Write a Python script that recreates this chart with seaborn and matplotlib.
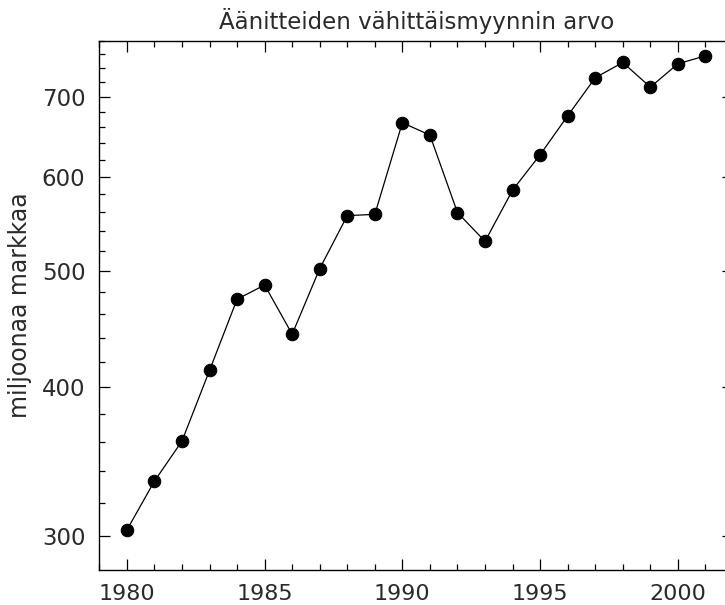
import matplotlib
matplotlib.use("Agg")
import matplotlib.pyplot as plt
import matplotlib.ticker as mticker
import seaborn as sns
import pandas as pd

years = list(range(1980, 2002))
values = [303.5, 333.5, 360.3, 412.9, 473.7, 486.9, 442.8, 502.5, 556.6, 558.0,
          665.9, 650.1, 559.9, 529.7, 584.7, 626.0, 674.8, 726.2, 747.9, 713.2,
          746.0, 757.6]
title = "Äänitteiden vähittäismyynnin arvo"
ylabel = "miljoonaa markkaa"
yticks = [300, 400, 500, 600, 700]
xticks = [1980, 1985, 1990, 1995, 2000]

df = pd.DataFrame({"year": years, "value": values})

sns.set_style("ticks")
plt.rcParams["font.family"] = ["DejaVu Sans"]
txt = "#2a2a2a"

fig = plt.figure(figsize=(7.25, 6.05), dpi=100)
ax = fig.add_axes([99.3 / 725, 1 - 570 / 605, (733 - 99.3) / 725, (570 - 40.7) / 605])

sns.lineplot(data=df, x="year", y="value", ax=ax, color="black", linewidth=0.9,
             marker="o", markersize=9, markeredgecolor="black", markerfacecolor="black")

ax.set_yscale("log")
ax.set_xlim(1979, 2002)
ax.set_ylim(281, 780)

ax.yaxis.set_major_locator(mticker.FixedLocator(yticks))
ax.yaxis.set_major_formatter(mticker.FixedFormatter([str(t) for t in yticks]))
ax.yaxis.set_minor_locator(mticker.FixedLocator([v for v in range(280, 781, 20) if v not in yticks]))
ax.yaxis.set_minor_formatter(mticker.NullFormatter())
ax.xaxis.set_major_locator(mticker.FixedLocator(xticks))
ax.xaxis.set_minor_locator(mticker.MultipleLocator(1))

for s in ax.spines.values():
    s.set_linewidth(1.0)
    s.set_color("black")
    s.set_visible(True)

ax.tick_params(which="both", direction="in", top=True, right=True, color="black", width=0.9)
ax.tick_params(which="major", length=8.2)
ax.tick_params(which="minor", length=4.3)
ax.tick_params(axis="x", which="major", pad=10, labelsize=16, labelcolor=txt)
ax.tick_params(axis="y", which="major", pad=10, labelsize=16.5, labelcolor=txt)

ax.set_xlabel("")
ax.set_ylabel(ylabel, fontsize=17, labelpad=7, color=txt)
ax.set_title(title, fontsize=16.5, pad=8.6, color=txt)

fig.savefig("out.png", dpi=100)
